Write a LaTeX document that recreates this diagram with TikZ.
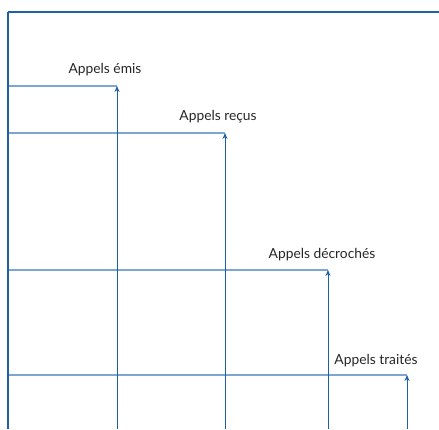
\documentclass[tikz,border=0pt]{standalone}
\usepackage{fontspec}
\setmainfont{Lato}
\usetikzlibrary{arrows.meta}
\definecolor{dark}{HTML}{1F5FA8}
\definecolor{light}{HTML}{7BA7D2}
\begin{document}
\begin{tikzpicture}[x=1pt,y=-1pt,
  hline/.style={light,line width=1.3pt},
  vline/.style={dark,line width=0.9pt},
  arr/.style={vline,-{Stealth[length=6pt,width=5pt]}},
  lbl/.style={font=\fontsize{13.8}{16}\selectfont,text=black!85,inner sep=0pt}]
\useasboundingbox (0,0) rectangle (439,429);
\coordinate (tl) at (8,12);
\coordinate (tr) at (439,12);
\coordinate (bl) at (8,429);
\coordinate (h1) at (8,86);
\coordinate (h2) at (8,133);
\coordinate (h3) at (8,270);
\coordinate (h4) at (8,375);
\coordinate (a1) at (117,86);
\coordinate (a2) at (225,133);
\coordinate (a3) at (328,270);
\coordinate (a4) at (407,375);
\coordinate (b1) at (117,429);
\coordinate (b2) at (225,429);
\coordinate (b3) at (328,429);
\coordinate (b4) at (407,429);
\draw[hline] (h1) -- (a1);
\draw[hline] (h2) -- (a2);
\draw[hline] (h3) -- (a3);
\draw[hline] (h4) -- (a4);
\draw[vline,line width=1.3pt] (tl) -- (tr);
\draw[vline,line width=1.6pt] (tl) -- (bl);
\draw[arr] (b1) -- (a1);
\draw[arr] (b2) -- (a2);
\draw[arr] (b3) -- (a3);
\draw[arr] (b4) -- (a4);
\node[lbl] (l1) at (105,70) {Appels émis};
\node[lbl] (l2) at (218,117) {Appels reçus};
\node[lbl] (l3) at (322,255) {Appels décrochés};
\node[lbl] (l4) at (376,361) {Appels traités};
\end{tikzpicture}
\end{document}
